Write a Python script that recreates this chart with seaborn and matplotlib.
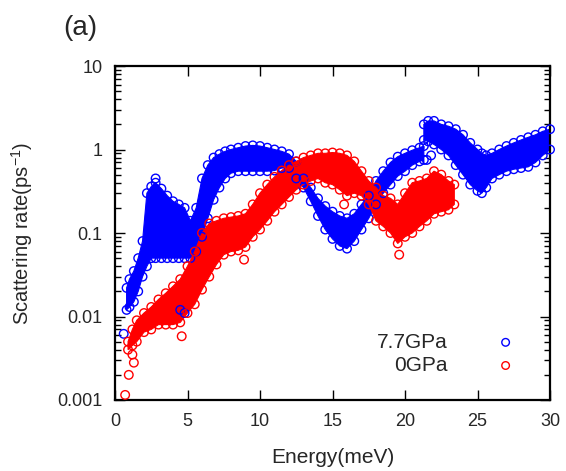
import numpy as np
import pandas as pd
import matplotlib
matplotlib.use("Agg")
import matplotlib.pyplot as plt
import seaborn as sns
from matplotlib.ticker import FixedLocator, LogLocator, NullFormatter

# ---------------- data ----------------
# 7.7 GPa, branch 1 (band: energy, lower edge, upper edge)
blue1_E = [0.8, 1.0, 1.3, 1.6, 1.9, 2.2, 2.5, 2.8, 3.2, 3.6, 4.0, 4.4, 4.8, 5.2,
           5.6, 6.0, 6.4, 6.8, 7.2, 7.6, 8.0, 8.5, 9.0, 9.5, 10.0, 10.5, 11.0,
           11.5, 12.0, 12.5, 13.0, 13.5, 14.0, 14.5, 15.0, 15.5, 16.0, 16.5,
           17.0, 17.5, 18.0, 18.5, 19.0, 19.5, 20.0, 20.5, 21.0, 21.3]
blue1_lo = [0.012, 0.013, 0.015, 0.02, 0.03, 0.04, 0.05, 0.05, 0.05, 0.05, 0.05,
            0.05, 0.05, 0.05, 0.06, 0.09, 0.15, 0.25, 0.35, 0.45, 0.52, 0.55,
            0.55, 0.55, 0.55, 0.55, 0.56, 0.6, 0.6, 0.45, 0.35, 0.24, 0.16,
            0.11, 0.085, 0.07, 0.065, 0.08, 0.11, 0.15, 0.22, 0.3, 0.38, 0.48,
            0.55, 0.65, 0.72, 0.75]
blue1_hi = [0.022, 0.028, 0.035, 0.05, 0.08, 0.3, 0.36, 0.4, 0.34, 0.28, 0.24,
            0.22, 0.2, 0.14, 0.2, 0.45, 0.65, 0.8, 0.88, 0.95, 1.0, 1.05, 1.1,
            1.12, 1.1, 1.05, 1.0, 0.95, 0.88, 0.72, 0.45, 0.35, 0.26, 0.21,
            0.18, 0.16, 0.15, 0.17, 0.22, 0.28, 0.42, 0.55, 0.7, 0.82, 0.9,
            0.98, 1.05, 1.1]
# 7.7 GPa, branch 2
blue2_E = [21.3, 21.6, 22.0, 22.5, 23.0, 23.5, 24.0, 24.5, 25.0, 25.3, 25.6,
           26.0, 26.5, 27.0, 27.5, 28.0, 28.5, 29.0, 29.5, 30.0]
blue2_lo = [1.3, 1.25, 1.15, 1.0, 0.85, 0.65, 0.5, 0.38, 0.32, 0.3, 0.35, 0.45,
            0.5, 0.55, 0.58, 0.6, 0.62, 0.7, 0.85, 1.0]
blue2_hi = [2.0, 2.2, 2.2, 2.0, 1.9, 1.75, 1.5, 1.2, 1.0, 0.9, 0.85, 0.9, 1.0,
            1.1, 1.2, 1.3, 1.4, 1.5, 1.65, 1.75]
blue_out_E = [0.6, 4.5, 4.8, 2.8, 21.5, 21.8]
blue_out_r = [0.0062, 0.012, 0.011, 0.45, 0.75, 0.85]

# 0 GPa band
red_E = [0.9, 1.2, 1.5, 2.0, 2.5, 3.0, 3.5, 4.0, 4.5, 5.0, 5.5, 6.0, 6.5, 7.0,
         7.5, 8.0, 8.5, 9.0, 9.5, 10.0, 10.5, 11.0, 11.5, 12.0, 12.5, 13.0,
         13.5, 14.0, 14.5, 15.0, 15.5, 16.0, 16.5, 17.0, 17.5, 18.0, 18.5,
         19.0, 19.5, 20.0, 20.5, 21.0, 21.5, 22.0, 22.5, 23.0, 23.4]
red_lo = [0.004, 0.0045, 0.005, 0.0065, 0.007, 0.008, 0.008, 0.008, 0.0085,
          0.011, 0.014, 0.021, 0.03, 0.042, 0.055, 0.06, 0.062, 0.068, 0.09,
          0.11, 0.14, 0.18, 0.22, 0.27, 0.33, 0.38, 0.42, 0.45, 0.4, 0.38,
          0.33, 0.28, 0.3, 0.28, 0.22, 0.14, 0.12, 0.1, 0.075, 0.09, 0.1,
          0.12, 0.14, 0.17, 0.18, 0.19, 0.22]
red_hi = [0.005, 0.007, 0.009, 0.011, 0.013, 0.016, 0.019, 0.023, 0.028, 0.04,
          0.06, 0.1, 0.13, 0.14, 0.15, 0.155, 0.16, 0.17, 0.22, 0.3, 0.38,
          0.47, 0.56, 0.65, 0.72, 0.8, 0.85, 0.9, 0.9, 0.92, 0.9, 0.85, 0.72,
          0.55, 0.42, 0.35, 0.28, 0.26, 0.22, 0.3, 0.4, 0.42, 0.45, 0.55, 0.5,
          0.42, 0.38]
red_out_E = [0.7, 0.95, 1.3, 1.2, 4.6, 8.9, 19.6, 15.8]
red_out_r = [0.00115, 0.002, 0.0028, 0.0035, 0.0058, 0.048, 0.055, 0.22]

series_labels = ["7.7GPa", "0GPa"]
x_ticks = [0, 5, 10, 15, 20, 25, 30]
y_ticks = [0.001, 0.01, 0.1, 1, 10]
y_tick_labels = ["0.001", "0.01", "0.1", "1", "10"]

# ---------------- figure ----------------
sns.set_theme(style="ticks")
plt.rcParams['font.family'] = ['Liberation Sans', 'DejaVu Sans']
plt.rcParams['mathtext.fontset'] = 'custom'
plt.rcParams['mathtext.rm'] = 'Liberation Sans'
plt.rcParams['mathtext.it'] = 'Liberation Sans'

BLUE = "#0000ff"
RED = "#ff0000"
TXT = "#262626"

fig = plt.figure(figsize=(5.66, 4.71), dpi=100)
ax = fig.add_axes([115 / 566, 1 - 400 / 471, 435 / 566, 334 / 471])

msize = 38
mlw = 1.0


def band(E, lo, hi, color, label=None):
    poly_x = list(E) + list(E)[::-1]
    poly_y = list(lo) + list(hi)[::-1]
    ax.fill(poly_x, poly_y, facecolor=color, edgecolor=color, lw=0.8,
            zorder=2, closed=True)
    df = pd.DataFrame({"E": list(E) + list(E), "r": list(lo) + list(hi)})
    sns.scatterplot(data=df, x="E", y="r", ax=ax, marker="o", s=msize,
                    facecolor="none", edgecolor=color, linewidth=mlw,
                    zorder=3, label=label, clip_on=False)


band(blue1_E, blue1_lo, blue1_hi, BLUE, series_labels[0])
band(blue2_E, blue2_lo, blue2_hi, BLUE)
sns.scatterplot(x=blue_out_E, y=blue_out_r, ax=ax, marker="o", s=msize,
                facecolor="none", edgecolor=BLUE, linewidth=mlw, zorder=3)
band(red_E, red_lo, red_hi, RED, series_labels[1])
sns.scatterplot(x=red_out_E, y=red_out_r, ax=ax, marker="o", s=msize,
                facecolor="none", edgecolor=RED, linewidth=mlw, zorder=3,
                clip_on=False)

ax.set_yscale("log")
ax.set_xlim(0, 30)
ax.set_ylim(0.001, 10)
ax.set_xticks(x_ticks)
ax.set_xticklabels([str(t) for t in x_ticks])
ax.yaxis.set_major_locator(FixedLocator(y_ticks))
ax.set_yticklabels(y_tick_labels)
ax.yaxis.set_minor_locator(LogLocator(base=10, subs=np.arange(2, 10)))
ax.yaxis.set_minor_formatter(NullFormatter())

ax.tick_params(axis="both", which="both", direction="in", top=True,
               right=True, labelsize=13, colors="black", labelcolor=TXT,
               width=1.0)
ax.tick_params(axis="x", which="major", length=7, pad=9)
ax.tick_params(axis="y", which="major", length=7, pad=9)
ax.tick_params(axis="y", which="minor", length=4)
for sp in ax.spines.values():
    sp.set_linewidth(1.6)
    sp.set_color("black")

ax.set_xlabel("Energy(meV)", fontsize=15, color=TXT, labelpad=13)
ax.set_ylabel("Scattering rate(ps$^{-1}$)", fontsize=14.5, color=TXT,
              labelpad=16)

leg = ax.legend(loc="lower right", frameon=False, markerfirst=False,
                fontsize=15, handletextpad=1.8, borderaxespad=0.0,
                labelspacing=0.2, bbox_to_anchor=(0.965, 0.05))
for h in leg.legend_handles:
    h.set_sizes([30])
for t in leg.get_texts():
    t.set_color(TXT)

fig.text(80 / 566, 1 - 28 / 471, "(a)", fontsize=20, color=TXT,
         ha="center", va="center")

fig.savefig("out.png", dpi=100)
